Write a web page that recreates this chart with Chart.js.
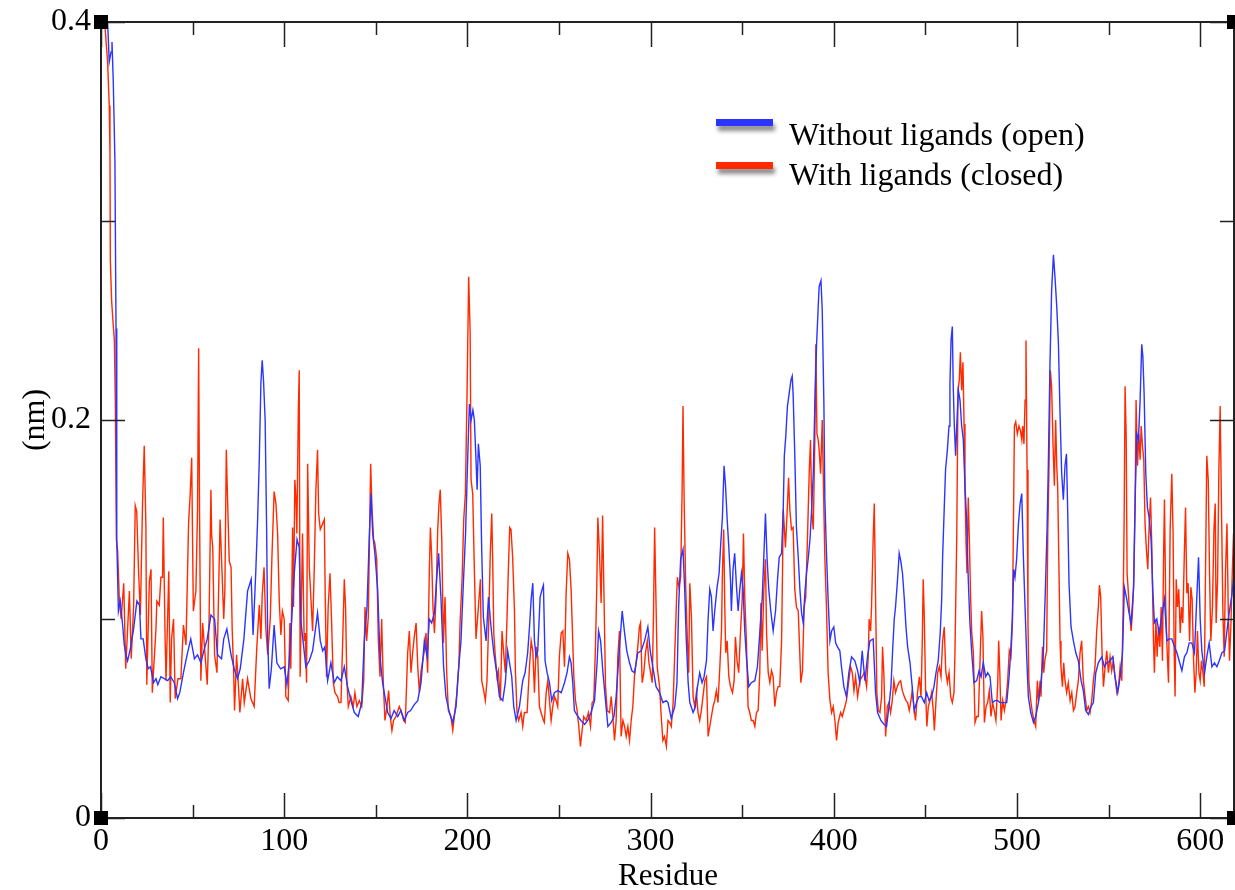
<!DOCTYPE html>
<html>
<head>
<meta charset="utf-8">
<title>RMSF per residue</title>
<script src="https://cdn.jsdelivr.net/npm/chart.js@4/dist/chart.umd.min.js"></script>
<style>
  html, body { margin: 0; padding: 0; background: #fff; }
  #wrap { width: 1235px; height: 890px; position: relative; }
</style>
</head>
<body>
<div id="wrap"><canvas id="rmsfChart"></canvas></div>
<script>
const seriesLabels = ['Without ligands (open)', 'With ligands (closed)'];
const seriesColors = ['#2b35ff', '#ff2a00'];
const xMajorTicks = [0, 100, 200, 300, 400, 500, 600];
const xMinorTicks = [50, 150, 250, 350, 450, 550];
const yMajorTicks = [0, 0.2, 0.4];
const yMinorTicks = [0.1, 0.3];
const yTickLabels = ['0', '0.2', '0.4'];

// [residue, RMSF in nm]
const openData = [
  [2,0.41],[3.6,0.4],[4.5,0.38],[5.5,0.385],[6,0.39],[6.7,0.37],[7.6,0.33],[8.2,0.246],[8.5,0.207],[8.7,0.14],[9.5,0.104],
  [10.5,0.109],[11.8,0.097],[12.7,0.087],[13.6,0.082],[14.5,0.079],[16,0.085],[17.8,0.095],[19.6,0.109],[21,0.107],[21.8,0.09],
  [23,0.09],[24.5,0.08],[25.8,0.075],[27,0.076],[28.7,0.068],[30,0.07],[31,0.067],[32.7,0.071],[34.5,0.07],[36.4,0.069],[38,0.071],
  [40,0.068],[41.8,0.06],[43,0.063],[45,0.073],[47,0.082],[49,0.09],[51,0.08],[52.7,0.082],[54.5,0.078],[56.4,0.085],[58,0.09],
  [60,0.102],[62,0.1],[63.6,0.082],[65.8,0.08],[67,0.09],[68.7,0.095],[71,0.082],[72.7,0.075],[74.5,0.07],[76,0.075],[78,0.09],
  [80,0.114],[82,0.12],[83,0.092],[84.5,0.124],[85.5,0.15],[86.4,0.18],[87.3,0.219],[88,0.23],[88.7,0.22],[89.6,0.2],[90.4,0.146],
  [91,0.09],[91.8,0.065],[93,0.075],[94.5,0.097],[96,0.078],[98,0.075],[100,0.076],[101.5,0.067],[102.7,0.078],[104,0.098],
  [105.5,0.123],[107,0.14],[108.2,0.136],[109,0.1],[110.4,0.088],[111.8,0.076],[113.7,0.079],[115.5,0.084],[116.8,0.093],[118.2,0.103],
  [119.7,0.089],[121,0.084],[122.2,0.086],[123.7,0.069],[125.5,0.078],[127.3,0.068],[129,0.071],[131,0.069],[132.8,0.076],[134.6,0.066],
  [136.4,0.059],[138.3,0.053],[140.4,0.051],[142.3,0.058],[143.7,0.089],[145.2,0.106],[146.4,0.14],[147.4,0.163],[148.3,0.143],
  [149.5,0.133],[151,0.115],[152.3,0.081],[153.7,0.068],[154.6,0.063],[156.5,0.053],[158.3,0.05],[160,0.054],[162,0.051],[163.7,0.054],
  [165.6,0.049],[167.4,0.053],[169,0.054],[171,0.057],[172.9,0.059],[174.7,0.068],[176.5,0.089],[178,0.081],[179.2,0.1],[180.5,0.098],
  [182,0.103],[183.2,0.12],[184.3,0.133],[185.6,0.11],[187,0.076],[188.3,0.061],[190.2,0.053],[192,0.048],[193.8,0.056],[195,0.073],
  [196.5,0.089],[197.8,0.118],[199,0.143],[200.2,0.182],[201.1,0.208],[202,0.2],[203,0.205],[203.8,0.2],[204.7,0.18],[205.3,0.165],
  [206,0.188],[207,0.177],[207.8,0.135],[208.7,0.101],[210.2,0.089],[211.5,0.111],[212.9,0.096],[214.4,0.083],[216,0.073],[217.5,0.061],
  [219.3,0.059],[220.7,0.068],[222,0.084],[223,0.078],[224.2,0.071],[225.3,0.056],[226.6,0.049],[228.4,0.056],[230.2,0.069],[231.5,0.073],
  [232.9,0.083],[233.9,0.096],[234.8,0.11],[235.7,0.118],[236.6,0.089],[237.5,0.081],[238.4,0.084],[239.7,0.111],[240.8,0.115],
  [241.5,0.117],[242.4,0.079],[243.5,0.073],[244.8,0.068],[246,0.059],[247.5,0.063],[249.3,0.064],[251.2,0.063],[253,0.068],[254.4,0.073],
  [255.7,0.081],[256.6,0.078],[257.5,0.068],[258.4,0.054],[260.3,0.051],[262,0.049],[264,0.047],[265.7,0.049],[267.5,0.053],[269.4,0.059],
  [270.8,0.078],[271.6,0.094],[272.7,0.089],[274,0.073],[275.2,0.061],[276.7,0.046],[278.5,0.048],[280,0.051],[281.2,0.061],[282.5,0.079],
  [283.6,0.093],[284.5,0.104],[285.8,0.093],[287,0.084],[288.5,0.078],[289.8,0.074],[291.2,0.073],[293,0.083],[294.9,0.084],[296.7,0.089],
  [298.5,0.096],[299.8,0.084],[301.2,0.076],[303,0.066],[304.9,0.063],[306.7,0.058],[308.5,0.059],[309.5,0.058],[311.3,0.05],[313.2,0.056],
  [314.4,0.068],[315.3,0.106],[316.4,0.13],[317.7,0.135],[318.6,0.115],[319.5,0.089],[320.5,0.068],[321.4,0.058],[323.2,0.053],[324.5,0.056],
  [325.6,0.066],[326.8,0.073],[328.1,0.068],[329.2,0.071],[330.5,0.079],[331.4,0.1],[332.3,0.115],[333.2,0.111],[334.1,0.094],[335,0.104],
  [336.3,0.116],[337.4,0.123],[338.3,0.138],[339.2,0.151],[340.1,0.177],[340.9,0.167],[341.8,0.15],[342.7,0.136],[343.6,0.12],[344.1,0.104],
  [345,0.125],[345.9,0.133],[346.9,0.116],[347.8,0.104],[348.7,0.115],[349.6,0.123],[350.5,0.115],[351.4,0.094],[352.3,0.081],[353.6,0.066],
  [355,0.068],[356.9,0.069],[358.3,0.076],[359.6,0.093],[360.9,0.11],[361.8,0.131],[362.7,0.153],[363.6,0.13],[364.5,0.115],[365.6,0.104],
  [366.9,0.094],[368.2,0.104],[369.3,0.12],[370.2,0.131],[371.5,0.133],[372.4,0.155],[373,0.182],[373.8,0.192],[374.7,0.207],[375.6,0.213],
  [376.6,0.22],[377.3,0.222],[377.8,0.213],[378.7,0.183],[379.6,0.146],[380.6,0.131],[381.5,0.115],[382.4,0.103],[383.3,0.098],[384.2,0.113],
  [385.1,0.123],[386,0.13],[387,0.14],[387.8,0.153],[388.8,0.173],[389.7,0.21],[390.6,0.238],[391.5,0.257],[392,0.267],[393,0.27],
  [393.7,0.255],[394.6,0.208],[395.1,0.161],[396,0.133],[396.9,0.11],[397.9,0.089],[398.8,0.094],[400,0.096],[401,0.088],[402,0.086],
  [403.3,0.084],[404.2,0.076],[405.5,0.066],[406.9,0.061],[408.2,0.073],[409.7,0.081],[411.5,0.079],[413,0.074],[414.2,0.068],[415.5,0.084],
  [417,0.069],[418.4,0.081],[419.7,0.089],[421.5,0.09],[422.8,0.063],[423.9,0.053],[425.7,0.049],[427.5,0.047],[428.8,0.046],[430.1,0.056],
  [431.2,0.066],[432.1,0.084],[433,0.1],[433.7,0.106],[434.8,0.12],[435.7,0.133],[436.6,0.129],[437.5,0.123],[438.5,0.11],[439.4,0.096],
  [440.3,0.086],[441.6,0.078],[442.8,0.066],[443.9,0.054],[445.2,0.058],[446.5,0.061],[447.9,0.061],[449.4,0.058],[450.7,0.063],[452,0.059],
  [453.4,0.061],[454.7,0.066],[455.8,0.073],[457,0.079],[458.1,0.093],[458.9,0.11],[459.4,0.131],[460.3,0.156],[461,0.175],[462,0.185],
  [462.9,0.197],[463.4,0.218],[464,0.24],[464.7,0.247],[465.2,0.217],[465.8,0.197],[466.5,0.182],[467.1,0.197],[468,0.215],[468.9,0.21],
  [469.8,0.197],[470.7,0.19],[471.6,0.167],[472.5,0.15],[473.4,0.12],[474.3,0.098],[475.3,0.083],[476.5,0.068],[478,0.069],[479.3,0.074],
  [480.4,0.071],[481.6,0.078],[482.9,0.071],[484,0.073],[485.3,0.071],[486.5,0.058],[488,0.059],[489.5,0.059],[490.7,0.058],[492.6,0.058],
  [494.4,0.058],[495.7,0.071],[496.7,0.086],[497.5,0.101],[498.2,0.125],[498.9,0.121],[499.8,0.13],[500.8,0.148],[501.7,0.158],[502.6,0.163],
  [503.5,0.131],[504.4,0.106],[505.3,0.081],[506.2,0.061],[507.5,0.053],[509,0.048],[510.2,0.051],[511.7,0.058],[513.1,0.068],[514.4,0.083],
  [515.5,0.115],[516.4,0.145],[517.1,0.177],[518,0.228],[518.9,0.265],[519.9,0.283],[520.8,0.271],[521.7,0.257],[522.6,0.239],[523.5,0.203],
  [524.4,0.173],[525.3,0.16],[526.2,0.177],[527,0.183],[527.7,0.153],[528.4,0.118],[529.5,0.096],[530.8,0.089],[532.1,0.083],[533.5,0.079],
  [535,0.069],[536.2,0.064],[537.5,0.054],[539,0.052],[540.4,0.056],[541.7,0.058],[543,0.073],[544.4,0.078],[546.3,0.081],[547.7,0.076],
  [549,0.078],[550.8,0.079],[552.3,0.081],[553.5,0.071],[555,0.063],[556.3,0.071],[557.6,0.083],[558.6,0.116],[559.9,0.11],[561.2,0.103],
  [562.3,0.098],[563.6,0.115],[564.5,0.16],[565.4,0.193],[566.3,0.19],[567.2,0.21],[568.1,0.238],[568.7,0.232],[569.4,0.213],[570.3,0.173],
  [571.2,0.156],[572.1,0.151],[573.2,0.14],[574.1,0.115],[575,0.098],[576.3,0.1],[577.6,0.093],[579,0.101],[580.5,0.11],[581.8,0.089],
  [583.1,0.09],[584.5,0.09],[586,0.086],[587.3,0.083],[588.5,0.079],[590,0.074],[591.4,0.081],[592.7,0.083],[594,0.088],[595.4,0.088],
  [596.9,0.083],[598.2,0.112],[599.1,0.131],[600,0.1],[600.9,0.084],[602.4,0.073],[603.6,0.081],[604.9,0.088],[606.4,0.076],[607.8,0.078],
  [609.1,0.076],[610.4,0.079],[611.8,0.083],[613.3,0.084],[614.6,0.094],[615.8,0.103],[617.3,0.112],[618.7,0.125],[620,0.13]
];

const closedData = [
  [2,0.4],[3.6,0.38],[4.5,0.358],[4.9,0.334],[5.1,0.28],[5.8,0.26],[6.5,0.25],[7.3,0.24],[7.8,0.21],[8.4,0.14],[9.1,0.134],[10,0.11],
  [11,0.1],[12.4,0.118],[13.5,0.075],[15.5,0.114],[16.5,0.08],[17.8,0.106],[18.7,0.157],[19.5,0.154],[20.5,0.124],[21.5,0.102],
  [22.7,0.159],[23.6,0.187],[24.5,0.147],[25,0.067],[26.4,0.119],[27.3,0.125],[28,0.063],[30,0.095],[30.5,0.109],[31.8,0.107],
  [32.7,0.121],[33.6,0.121],[34,0.151],[35,0.09],[35.5,0.069],[37,0.124],[37.8,0.058],[38.5,0.09],[39.6,0.1],[40.5,0.06],[42,0.07],
  [43.6,0.07],[45,0.097],[46.4,0.087],[47.8,0.148],[48.7,0.163],[49.5,0.181],[50.4,0.104],[51.8,0.114],[52.7,0.155],[53.3,0.236],
  [53.8,0.153],[54.5,0.069],[55.5,0.098],[56.4,0.087],[57.2,0.077],[58,0.067],[59,0.1],[60,0.165],[60.4,0.142],[61,0.136],[62,0.082],
  [63.3,0.073],[65,0.15],[65.8,0.13],[67,0.1],[67.6,0.114],[68.4,0.185],[69,0.163],[70,0.129],[71,0.126],[71.6,0.095],[72.4,0.074],
  [72.9,0.054],[74,0.082],[74.8,0.07],[75.8,0.053],[77.3,0.07],[78.2,0.058],[80,0.07],[81.8,0.06],[83.6,0.056],[85,0.085],[86.4,0.107],
  [87.3,0.09],[88,0.112],[89,0.126],[90,0.095],[91,0.082],[92.4,0.1],[93.3,0.131],[94.5,0.164],[95.5,0.158],[96.4,0.143],[97.3,0.109],
  [98.2,0.092],[99,0.104],[100,0.1],[100.9,0.061],[102.2,0.059],[103.1,0.098],[103.6,0.075],[104.6,0.146],[105.1,0.106],[105.8,0.17],
  [106.4,0.161],[106.9,0.143],[107.7,0.204],[108.2,0.225],[108.7,0.071],[109.5,0.115],[110,0.143],[110.9,0.089],[111.5,0.093],
  [112.2,0.068],[112.8,0.178],[113.7,0.126],[114.6,0.11],[115.5,0.094],[116.4,0.125],[117.3,0.165],[118.2,0.185],[118.8,0.153],
  [119.7,0.145],[121,0.148],[121.9,0.15],[122.4,0.111],[123.1,0.071],[124,0.106],[125,0.123],[125.9,0.098],[126.8,0.068],[127.7,0.063],
  [129.1,0.061],[130,0.058],[131,0.058],[131.9,0.088],[132.8,0.12],[133.5,0.106],[134.2,0.069],[135,0.056],[136.4,0.061],[137.7,0.056],
  [138.6,0.063],[139.7,0.056],[141,0.059],[142.3,0.056],[143.4,0.069],[144.1,0.106],[145,0.089],[145.9,0.101],[146.6,0.143],[147.2,0.178],
  [147.9,0.156],[148.8,0.14],[149.5,0.138],[150.5,0.13],[151.4,0.089],[152.3,0.071],[153.2,0.1],[154.1,0.068],[155,0.049],[156.1,0.056],
  [157,0.064],[157.9,0.051],[158.8,0.044],[159.7,0.049],[161,0.051],[162.8,0.056],[163.7,0.054],[165.2,0.049],[166.1,0.048],[167.4,0.083],
  [168.3,0.094],[169.2,0.073],[170.1,0.083],[171,0.091],[172,0.098],[172.9,0.076],[173.8,0.063],[174.7,0.074],[175.6,0.079],[176.5,0.084],
  [177.4,0.093],[178.3,0.073],[179.2,0.123],[179.8,0.146],[180.5,0.131],[181.2,0.106],[182,0.093],[182.9,0.111],[183.8,0.145],[184.5,0.158],
  [185.2,0.165],[186,0.14],[186.9,0.088],[187.8,0.111],[188.7,0.073],[189.6,0.054],[191,0.051],[192,0.044],[192.9,0.051],[194.3,0.063],
  [195.3,0.076],[196,0.098],[197.1,0.12],[198,0.15],[198.9,0.163],[199.8,0.213],[200.7,0.272],[201.5,0.244],[202,0.17],[202.9,0.163],
  [203.8,0.125],[204.7,0.09],[205.6,0.101],[207.1,0.12],[207.8,0.069],[208.9,0.064],[209.8,0.059],[210.7,0.069],[211.6,0.098],[212.5,0.133],
  [213.3,0.153],[213.8,0.13],[214.4,0.093],[215.1,0.083],[216.2,0.071],[216.9,0.074],[218,0.059],[218.9,0.094],[219.8,0.083],[220.7,0.073],
  [221.6,0.1],[222.4,0.126],[223.1,0.146],[223.8,0.145],[224.7,0.131],[225.7,0.104],[226.2,0.074],[227.1,0.053],[228,0.049],[229.3,0.053],
  [230.2,0.046],[231.1,0.053],[232.6,0.053],[233.9,0.076],[234.8,0.089],[235.7,0.084],[236.6,0.063],[237.5,0.086],[238.4,0.081],
  [239.3,0.056],[240.2,0.053],[241.5,0.049],[242,0.048],[243,0.063],[243.9,0.069],[244.8,0.059],[245.7,0.049],[246.6,0.056],[247.5,0.061],
  [248.4,0.059],[249.3,0.056],[250.2,0.081],[251.2,0.093],[252.1,0.094],[253,0.076],[253.9,0.113],[254.8,0.133],[255.7,0.13],[256.6,0.115],
  [257.2,0.098],[258.1,0.071],[259,0.059],[259.9,0.054],[260.8,0.046],[261.7,0.036],[262.6,0.044],[263.5,0.051],[264.8,0.049],[266.1,0.053],
  [267.2,0.046],[268.1,0.058],[269,0.059],[269.9,0.086],[270.6,0.115],[271.2,0.151],[272.1,0.133],[273,0.108],[273.8,0.152],[274.5,0.115],
  [275.4,0.066],[276.3,0.054],[277.6,0.053],[278.5,0.061],[279.4,0.051],[280.3,0.039],[281.2,0.049],[282.1,0.081],[283,0.094],[283.9,0.041],
  [284.9,0.049],[285.8,0.046],[286.7,0.041],[287.6,0.046],[288.5,0.039],[289.4,0.049],[290.3,0.056],[291.2,0.071],[292.1,0.078],[293,0.086],
  [293.9,0.096],[294.5,0.098],[295.4,0.068],[296.3,0.073],[297.2,0.083],[298.2,0.089],[299.1,0.078],[300,0.073],[300.9,0.068],[301.6,0.104],
  [302.2,0.146],[302.9,0.111],[303.6,0.076],[304.9,0.066],[305.8,0.051],[306.7,0.039],[307.6,0.041],[308.6,0.036],[309.5,0.049],[310.4,0.048],
  [311.3,0.046],[312.3,0.058],[313.2,0.083],[314.1,0.108],[314.6,0.121],[315.5,0.116],[316.4,0.121],[317.2,0.165],[317.7,0.207],[318.3,0.16],
  [319.2,0.115],[320.1,0.089],[320.8,0.073],[321.4,0.118],[322.3,0.101],[323.2,0.061],[324.1,0.056],[325,0.063],[325.9,0.053],[326.8,0.049],
  [327.7,0.054],[328.6,0.061],[329.6,0.069],[330.5,0.071],[331.4,0.041],[332.3,0.046],[333.2,0.051],[334.1,0.056],[335,0.059],[335.9,0.064],
  [336.8,0.058],[337.8,0.076],[338.7,0.094],[339.2,0.123],[339.9,0.145],[340.5,0.106],[341,0.083],[341.8,0.089],[342.7,0.071],[343.6,0.066],
  [344.7,0.063],[345.6,0.069],[346.3,0.091],[347.2,0.079],[348.1,0.073],[349.1,0.094],[350,0.11],[350.7,0.143],[351.4,0.111],[352.3,0.089],
  [353.2,0.056],[354.1,0.053],[355,0.049],[356,0.049],[356.9,0.046],[357.8,0.053],[358.7,0.054],[359.6,0.073],[360.2,0.108],[360.9,0.084],
  [361.8,0.115],[362.7,0.13],[363.3,0.093],[364.2,0.073],[365.1,0.068],[366,0.074],[366.9,0.071],[367.8,0.056],[368.7,0.063],[369.6,0.066],
  [370.5,0.066],[371.5,0.089],[372,0.123],[372.4,0.155],[373,0.146],[373.6,0.136],[374.5,0.153],[375.3,0.171],[376,0.155],[376.9,0.145],
  [377.8,0.146],[378.7,0.115],[379.6,0.106],[380.6,0.104],[381.5,0.081],[382,0.068],[382.9,0.074],[383.8,0.106],[384.7,0.111],[385.7,0.143],
  [386.6,0.174],[387.3,0.19],[388,0.153],[388.8,0.145],[389.7,0.193],[390.2,0.238],[390.8,0.193],[391.5,0.19],[392,0.185],[392.8,0.173],
  [393.7,0.2],[394.4,0.165],[395.1,0.131],[396,0.106],[396.9,0.073],[397.9,0.059],[398.8,0.053],[399.7,0.056],[400.6,0.049],[401.5,0.039],
  [402.4,0.048],[403.7,0.053],[404.6,0.051],[405.5,0.054],[406.9,0.059],[408.2,0.069],[409.2,0.076],[410.1,0.073],[411,0.064],[411.9,0.071],
  [413,0.061],[414.2,0.069],[415.5,0.071],[416.6,0.073],[417.9,0.066],[418.8,0.081],[419.3,0.1],[420.1,0.094],[420.6,0.106],[421.5,0.141],
  [422.1,0.158],[422.8,0.111],[423.5,0.063],[424.3,0.054],[425.2,0.053],[426.1,0.061],[426.6,0.086],[427.3,0.073],[428.3,0.041],[429.2,0.056],
  [430.1,0.058],[431,0.053],[431.9,0.059],[432.8,0.069],[433.7,0.063],[434.6,0.066],[435.5,0.068],[436.5,0.069],[437.4,0.064],[438.5,0.061],
  [439.4,0.059],[440.3,0.058],[441.2,0.054],[442.1,0.059],[442.8,0.064],[443.7,0.056],[444.6,0.049],[445.7,0.063],[446.7,0.071],[447.6,0.061],
  [448.3,0.088],[448.8,0.12],[449.4,0.101],[450.1,0.064],[450.8,0.046],[451.6,0.056],[452.5,0.059],[453.4,0.063],[454.3,0.054],[454.9,0.044],
  [455.8,0.059],[456.7,0.073],[457.6,0.076],[458.5,0.071],[459.4,0.089],[460.3,0.096],[461.1,0.074],[462,0.068],[462.9,0.073],[463.8,0.061],
  [464.7,0.058],[465.6,0.063],[466.1,0.081],[467.1,0.14],[467.8,0.215],[468.5,0.22],[469.1,0.234],[469.8,0.215],[470.5,0.229],[471.1,0.198],
  [471.6,0.165],[472.2,0.138],[472.7,0.123],[473.4,0.161],[474,0.14],[474.7,0.11],[475.3,0.093],[476.2,0.083],[477.1,0.048],[478,0.051],
  [478.9,0.051],[479.8,0.078],[480.7,0.104],[481.4,0.091],[482.2,0.048],[483.1,0.056],[484,0.058],[484.9,0.064],[485.8,0.051],[486.7,0.058],
  [487.6,0.054],[488.5,0.049],[489.5,0.068],[490,0.089],[490.6,0.074],[491.3,0.049],[492.2,0.059],[493.1,0.054],[494,0.059],[494.9,0.069],
  [495.8,0.084],[496.7,0.081],[497.5,0.098],[498,0.143],[498.6,0.197],[499.3,0.199],[500.2,0.193],[501.1,0.197],[501.8,0.195],[502.6,0.19],
  [503.1,0.197],[503.8,0.188],[504.4,0.21],[504.9,0.24],[505.5,0.175],[506,0.098],[506.5,0.068],[507.5,0.059],[508.4,0.053],[509.3,0.049],
  [510.2,0.046],[511.1,0.069],[511.7,0.059],[512.6,0.069],[513.1,0.061],[513.9,0.086],[514.6,0.073],[515.3,0.08],[516.2,0.084],[516.8,0.143],
  [517.5,0.177],[518.2,0.225],[518.9,0.217],[519.7,0.187],[520.4,0.167],[521.1,0.2],[521.7,0.177],[522.2,0.167],[523,0.12],[523.5,0.089],
  [524,0.076],[524.8,0.066],[525.5,0.078],[526.2,0.069],[527.1,0.063],[528,0.068],[529,0.059],[529.9,0.063],[530.8,0.054],[531.7,0.056],
  [532.6,0.063],[533.5,0.069],[534.4,0.083],[535.3,0.089],[536.2,0.069],[537.2,0.061],[538.1,0.054],[539,0.056],[539.9,0.053],[540.8,0.059],
  [541.7,0.069],[542.6,0.076],[543.5,0.094],[544.4,0.106],[545,0.117],[545.7,0.111],[546.4,0.084],[547.2,0.066],[548.1,0.076],[549,0.084],
  [549.9,0.073],[550.8,0.081],[551.7,0.074],[552.6,0.079],[553.5,0.071],[554.5,0.063],[555.4,0.066],[556.3,0.076],[557.2,0.069],[557.9,0.103],
  [558.5,0.151],[559,0.217],[559.6,0.192],[560.1,0.123],[560.8,0.113],[561.6,0.101],[562.3,0.094],[563,0.103],[563.8,0.12],[564.5,0.16],
  [565,0.21],[565.8,0.177],[566.5,0.193],[567.2,0.18],[567.8,0.197],[568.5,0.187],[569.2,0.18],[569.9,0.148],[570.7,0.134],[571.4,0.125],
  [572.1,0.146],[572.9,0.161],[573.6,0.136],[574.5,0.089],[575,0.073],[575.8,0.1],[576.5,0.081],[577.2,0.096],[578,0.086],[578.7,0.106],
  [579.4,0.079],[580,0.13],[580.5,0.16],[581.2,0.106],[582,0.083],[582.7,0.068],[583.6,0.145],[584.5,0.173],[585.2,0.143],[585.8,0.083],
  [586.3,0.061],[586.9,0.12],[587.6,0.106],[588.3,0.115],[589.1,0.093],[589.8,0.106],[590.5,0.098],[591.3,0.131],[592,0.156],[592.7,0.113],
  [593.4,0.118],[594.2,0.089],[594.9,0.116],[595.6,0.11],[596.4,0.079],[597.1,0.063],[597.8,0.073],[598.5,0.094],[599.3,0.073],[600,0.069],
  [600.7,0.079],[601.5,0.073],[602.2,0.066],[602.9,0.123],[603.6,0.182],[604.4,0.17],[605.1,0.123],[605.8,0.089],[606.7,0.106],[607.5,0.145],
  [608.2,0.158],[608.7,0.098],[609.5,0.12],[610.2,0.175],[610.9,0.207],[611.7,0.15],[612.4,0.103],[613.1,0.081],[613.8,0.123],[614.6,0.148],
  [615.3,0.106],[616,0.079],[616.8,0.098],[617.5,0.123],[618.2,0.143],[619,0.123],[620,0.13]
];

const serif = "'Liberation Serif', 'Times New Roman', serif";

function toPoints(pairs) {
  return pairs.map(p => ({ x: p[0], y: p[1] }));
}

// xmgrace style frame: inward ticks on all four sides, corner squares, legend box
const gracePlugin = {
  id: 'graceFrame',
  afterDatasetsDraw(chart) {
    const ctx = chart.ctx;
    const a = chart.chartArea;
    const xs = chart.scales.x, ys = chart.scales.y;
    const right = a.right - 1;
    ctx.save();
    ctx.strokeStyle = '#222';
    ctx.lineWidth = 2;
    ctx.strokeRect(a.left, a.top, right - a.left, a.bottom - a.top);
    ctx.lineWidth = 1.5;
    ctx.beginPath();
    xMajorTicks.forEach(v => {
      const px = Math.round(xs.getPixelForValue(v)) + 0.5;
      ctx.moveTo(px, a.bottom); ctx.lineTo(px, a.bottom - 25);
      ctx.moveTo(px, a.top); ctx.lineTo(px, a.top + 25);
    });
    xMinorTicks.forEach(v => {
      const px = Math.round(xs.getPixelForValue(v)) + 0.5;
      ctx.moveTo(px, a.bottom); ctx.lineTo(px, a.bottom - 13);
      ctx.moveTo(px, a.top); ctx.lineTo(px, a.top + 13);
    });
    yMajorTicks.forEach(v => {
      const py = Math.round(ys.getPixelForValue(v)) + 0.5;
      ctx.moveTo(a.left, py); ctx.lineTo(a.left + 24, py);
      ctx.moveTo(right, py); ctx.lineTo(right - 24, py);
    });
    yMinorTicks.forEach(v => {
      const py = Math.round(ys.getPixelForValue(v)) + 0.5;
      ctx.moveTo(a.left, py); ctx.lineTo(a.left + 14, py);
      ctx.moveTo(right, py); ctx.lineTo(right - 14, py);
    });
    ctx.stroke();
    ctx.fillStyle = '#000';
    [[a.left, a.top], [right, a.top], [a.left, a.bottom], [right, a.bottom]].forEach(c => {
      ctx.fillRect(c[0] - 7, c[1] - 7, 14, 14);
    });
    ctx.restore();
  },
  afterDraw(chart) {
    const ctx = chart.ctx;
    const bars = [123, 166];
    const texts = [145, 185];
    ctx.save();
    chart.data.datasets.forEach((ds, i) => {
      ctx.save();
      ctx.shadowColor = 'rgba(0,0,0,0.45)';
      ctx.shadowBlur = 4;
      ctx.shadowOffsetX = 2;
      ctx.shadowOffsetY = 5;
      ctx.fillStyle = ds.borderColor;
      ctx.fillRect(716, bars[i] - 4, 57, 7);
      ctx.restore();
      ctx.fillStyle = '#000';
      ctx.font = '32px ' + serif;
      ctx.textBaseline = 'alphabetic';
      ctx.textAlign = 'left';
      ctx.fillText(ds.label, 789, texts[i]);
    });
    ctx.restore();
  }
};

const ctx = document.getElementById('rmsfChart');
new Chart(ctx, {
  type: 'line',
  data: {
    datasets: [
      {
        label: seriesLabels[0],
        data: toPoints(openData),
        borderColor: seriesColors[0],
        borderWidth: 1.4,
        pointRadius: 0,
        tension: 0,
        fill: false
      },
      {
        label: seriesLabels[1],
        data: toPoints(closedData),
        borderColor: seriesColors[1],
        borderWidth: 1.4,
        pointRadius: 0,
        tension: 0,
        fill: false
      }
    ]
  },
  options: {
    responsive: true,
    maintainAspectRatio: false,
    animation: false,
    events: [],
    layout: { padding: { top: 22, right: 0, left: 0, bottom: 0 } },
    plugins: {
      legend: { display: false },
      tooltip: { enabled: false }
    },
    scales: {
      x: {
        type: 'linear',
        min: 0,
        max: 619,
        grid: { display: false, drawTicks: false },
        border: { display: false },
        afterFit: function (scale) {
          scale.height = 72;
          scale.paddingLeft = 0;
          scale.paddingRight = 0;
        },
        ticks: {
          stepSize: 50,
          includeBounds: false,
          autoSkip: false,
          maxRotation: 0,
          padding: 4,
          color: '#000',
          font: { family: serif, size: 32 },
          callback: function (value) {
            return xMajorTicks.includes(value) ? String(value) : '';
          }
        },
        title: {
          display: true,
          text: 'Residue',
          color: '#000',
          font: { family: serif, size: 31, lineHeight: 0.875 },
          padding: { top: 0, bottom: 0 }
        }
      },
      y: {
        min: 0,
        max: 0.4,
        grid: { display: false, drawTicks: false },
        border: { display: false },
        afterFit: function (scale) {
          scale.width = 101;
          scale.paddingTop = 0;
          scale.paddingBottom = 0;
        },
        ticks: {
          stepSize: 0.1,
          autoSkip: false,
          padding: 10,
          color: '#000',
          font: { family: serif, size: 32 },
          callback: function (value) {
            const idx = yMajorTicks.findIndex(t => Math.abs(t - value) < 1e-6);
            return idx >= 0 ? yTickLabels[idx] : '';
          }
        },
        title: {
          display: true,
          text: '(nm)',
          color: '#000',
          font: { family: serif, size: 32 },
          padding: { top: 16, bottom: 0 }
        }
      }
    }
  },
  plugins: [gracePlugin]
});
</script>
</body>
</html>
